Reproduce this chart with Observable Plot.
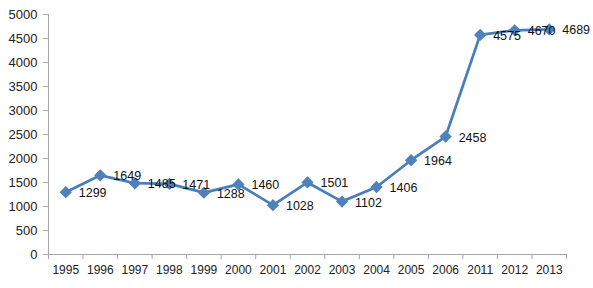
<!DOCTYPE html>
<html><head><meta charset="utf-8">
<script src="https://cdn.jsdelivr.net/npm/d3@7"></script>
<script src="https://cdn.jsdelivr.net/npm/@observablehq/plot@0.6"></script>
<style>body{margin:0;background:#fff}</style>
</head><body><div id="chart"></div>
<script>
const categories = ["1995","1996","1997","1998","1999","2000","2001","2002","2003","2004","2005","2006","2011","2012","2013"];
const values = [1299,1649,1485,1471,1288,1460,1028,1501,1102,1406,1964,2458,4575,4670,4689];
const yTicks = [0,500,1000,1500,2000,2500,3000,3500,4000,4500,5000];

const data = categories.map((c,i)=>({i, c, v: values[i]}));
const idx = categories.map((c,i)=>i);
const bounds = d3.range(categories.length+1).map(i=>i-0.5);
const font = "Liberation Sans, Arial, sans-serif";
const blue = "#4A7EBB";

const chart = Plot.plot({
  width: 593, height: 288,
  marginLeft: 48, marginRight: 27, marginTop: 14, marginBottom: 34,
  style: {fontFamily: font, fontSize: "12px", color: "#222", background: "#fff"},
  x: {type: "linear", domain: [-0.5, categories.length-0.5], axis: null},
  y: {domain: [0, 5000], axis: null},
  marks: [
    Plot.ruleY([0], {stroke: "#a6a6a6"}),
    Plot.ruleX([-0.5], {stroke: "#a6a6a6"}),
    Plot.axisX({ticks: bounds, tickFormat: () => "", tickSize: 5, stroke: "#a6a6a6", label: null}),
    Plot.axisX({ticks: idx, tickFormat: i => categories[i], tickSize: 0, tickPadding: 11, fill: "#222", fontSize: 12, label: null}),
    Plot.axisY({ticks: yTicks, tickFormat: d => String(d), tickSize: 5, tickPadding: 6, stroke: "#a6a6a6", fill: "#222", fontSize: 13, label: null}),
    Plot.line(data, {x: "i", y: "v", stroke: blue, strokeWidth: 2.75}),
    Plot.dot(data, {x: "i", y: "v", symbol: "diamond2", r: 4.6, fill: "#4F81BD", stroke: "#4F81BD"}),
    Plot.text(data, {x: "i", y: "v", text: d => String(d.v), textAnchor: "start", dx: 13, dy: 1, fill: "#111", fontSize: 12.5})
  ]
});
document.getElementById("chart").append(chart);
</script></body></html>
